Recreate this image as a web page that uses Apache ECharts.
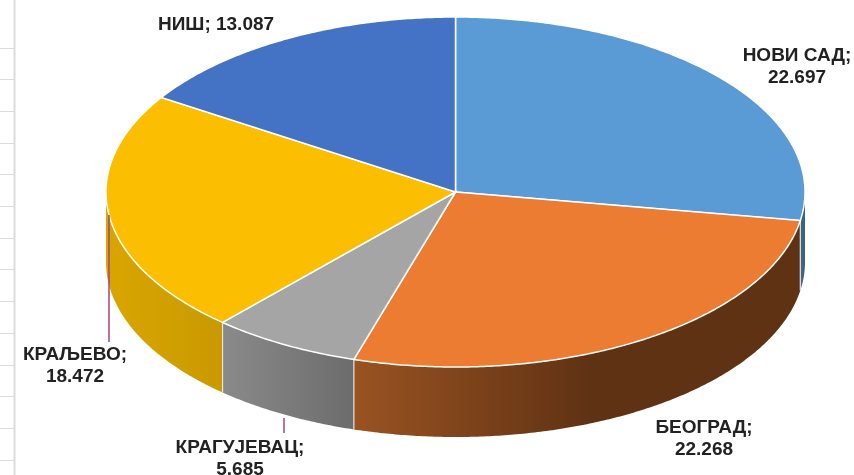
<!DOCTYPE html>
<html>
<head>
<meta charset="utf-8">
<title>Pie</title>
<style>
html, body { margin: 0; padding: 0; background: #fff; }
#main { width: 854px; height: 475px; }
</style>
<script src="https://cdn.jsdelivr.net/npm/echarts@6/dist/echarts.min.js"></script>
</head>
<body>
<div id="main"></div>
<script>
// data
var cities = ['НОВИ САД', 'БЕОГРАД', 'КРАГУЈЕВАЦ', 'КРАЉЕВО', 'НИШ'];
var values = [22.697, 22.268, 5.685, 18.472, 13.087];

// colours
var topColors = ['#5b9bd5', '#eb7c31', '#a5a5a5', '#fbbe00', '#4472c4'];
var sideFrom = ['#3d6d94', '#9a5321', '#8a8a8a', '#d9a600', '#2f5090'];
var sideTo = ['#35607f', '#5f3214', '#6c6c6c', '#c99900', '#2f5090'];

// layout: centre, radii and depth of the tilted disc
var cx = 455.5, cy = 192, rx = 349.5, ry = 175, depth = 70;
// label centres and separators, leader lines
var labelX = [797, 704, 240, 75, 216];
var labelY = [67, 438.5, 459, 366, 25];
var labelSep = ['\n', '\n', '\n', '\n', ' '];
var leaders = [[109, 215, 109, 342], [284, 418, 284, 433]];

var total = values.reduce(function(a, b) { return a + b; }, 0);

function sliceAngles(i) {
	var sum = 0;
	for (var k = 0; k < i; k++) sum += values[k];
	return [sum / total * 360, (sum + values[i]) / total * 360];
}

// clockwise from the top of the ellipse
function rimPoint(deg, dy) {
	var a = deg * Math.PI / 180;
	return [cx + rx * Math.sin(a), cy - ry * Math.cos(a) + dy];
}

function seam(deg) {
	var p = rimPoint(deg, 0), q = rimPoint(deg, depth);
	return {
		type: 'line',
		shape: { x1: p[0], y1: p[1], x2: q[0], y2: q[1] },
		style: { stroke: '#e4e4e4', lineWidth: 1.2 }
	};
}

function renderSide(params) {
	var i = params.dataIndex;
	var ang = sliceAngles(i);
	// only the front half of the rim is visible
	var from = Math.max(ang[0], 90), to = Math.min(ang[1], 270);
	if (from >= to) return null;
	var pts = [], d;
	for (d = from; d < to; d += 0.5) pts.push(rimPoint(d, 0));
	pts.push(rimPoint(to, 0));
	for (d = to; d > from; d -= 0.5) pts.push(rimPoint(d, depth));
	pts.push(rimPoint(from, depth));
	var stops = i == 1 ?
		[{ offset: 0, color: sideFrom[i] }, { offset: 0.53, color: sideTo[i] }, { offset: 1, color: sideTo[i] }] :
		[{ offset: 0, color: sideFrom[i] }, { offset: 1, color: sideTo[i] }];
	var children = [{
		type: 'polygon',
		shape: { points: pts },
		style: { fill: new echarts.graphic.LinearGradient(0, 0, 1, 0, stops) }
	}];
	if (ang[0] > 90 && ang[0] < 270) children.push(seam(ang[0]));
	return { type: 'group', children: children };
}

function renderTop(params) {
	var i = params.dataIndex;
	var ang = sliceAngles(i);
	var pts = [[cx, cy]];
	for (var d = ang[0]; d < ang[1]; d += 0.5) pts.push(rimPoint(d, 0));
	pts.push(rimPoint(ang[1], 0));
	return {
		type: 'polygon',
		shape: { points: pts },
		style: { fill: topColors[i], stroke: '#fff', lineWidth: 1.5 }
	};
}

function renderLabel(params) {
	var i = params.dataIndex;
	return {
		type: 'text',
		x: labelX[i],
		y: labelY[i],
		style: {
			text: cities[i] + ';' + labelSep[i] + values[i].toFixed(3),
			fill: '#222',
			font: 'bold 19px "Liberation Sans", Arial, sans-serif',
			lineHeight: 22,
			align: 'center',
			verticalAlign: 'middle'
		}
	};
}

// remains of the spreadsheet at the left edge
var sheetLines = [{
	type: 'line',
	shape: { x1: 14.5, y1: 0, x2: 14.5, y2: 475 },
	style: { stroke: '#dcdcdc', lineWidth: 2 }
}];
for (var n = 0; n < 14; n++) {
	var gy = Math.round(47.5 + n * 31.7) + 0.5;
	sheetLines.push({
		type: 'line',
		shape: { x1: 0, y1: gy, x2: 14, y2: gy },
		style: { stroke: '#dcdcdc', lineWidth: 1 }
	});
}

var leaderLines = leaders.map(function(l) {
	return {
		type: 'line',
		z: 10,
		shape: { x1: l[0], y1: l[1], x2: l[2], y2: l[3] },
		style: { stroke: '#a2447c', lineWidth: 1.5 }
	};
});

var rows = values.map(function(v) { return [v]; });

var myChart = echarts.init(document.getElementById('main'));
var option = {
	animation: false,
	backgroundColor: '#fff',
	graphic: { elements: sheetLines.concat(leaderLines) },
	series: [{
		type: 'custom',
		coordinateSystem: 'none',
		silent: true,
		z: 1,
		data: rows,
		renderItem: renderSide
	}, {
		type: 'custom',
		coordinateSystem: 'none',
		silent: true,
		z: 2,
		data: rows,
		renderItem: renderTop
	}, {
		type: 'custom',
		coordinateSystem: 'none',
		silent: true,
		z: 20,
		data: rows,
		renderItem: renderLabel
	}]
};
myChart.setOption(option);
</script>
</body>
</html>
